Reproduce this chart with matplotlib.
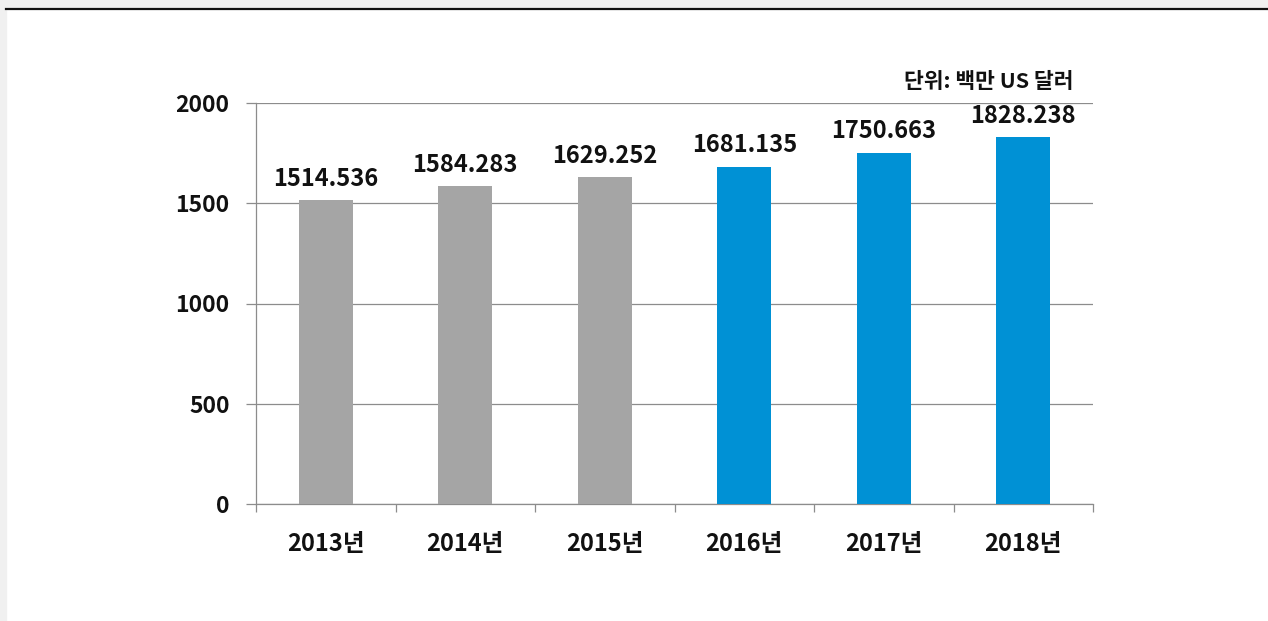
import matplotlib
matplotlib.use("Agg")
import matplotlib.pyplot as plt
from matplotlib.patches import Rectangle
from matplotlib.lines import Line2D

years = ["2013년", "2014년", "2015년", "2016년", "2017년", "2018년"]
values = [1514.536, 1584.283, 1629.252, 1681.135, 1750.663, 1828.238]
value_labels = ["1514.536", "1584.283", "1629.252", "1681.135", "1750.663", "1828.238"]
bar_colors = ["#a5a5a5", "#a5a5a5", "#a5a5a5", "#0091d5", "#0091d5", "#0091d5"]
yticks = [0, 500, 1000, 1500, 2000]
unit_text = "단위: 백만 US 달러"

plt.rcParams['font.family'] = ['Noto Sans CJK KR', 'DejaVu Sans']

W, H = 1268, 621
fig = plt.figure(figsize=(W / 100, H / 100), dpi=100)
fig.patch.set_facecolor("white")

# background frame: gray left strip and top strip with dark line
fig.add_artist(Rectangle((0, 0), 6 / W, 1, transform=fig.transFigure, color="#f0f0f0", zorder=0))
fig.add_artist(Rectangle((0, 1 - 8 / H), 1, 8 / H, transform=fig.transFigure, color="#f0f0f0", zorder=0))
fig.add_artist(Line2D([6 / W, 1], [1 - 9 / H, 1 - 9 / H], transform=fig.transFigure, color="#111111", lw=1.6))

left, right = 256 / W, 1093 / W
bottom, top = 1 - 504 / H, 1 - 103 / H
ax = fig.add_axes([left, bottom, right - left, top - bottom])

x = list(range(len(years)))
ax.bar(x, values, width=0.39, color=bar_colors, zorder=3)
ax.set_xlim(-0.5, len(years) - 0.5)
ax.set_ylim(0, 2000)

for xi, v, lab in zip(x, values, value_labels):
    ax.annotate(lab, (xi, v), xytext=(0, 7), textcoords="offset points",
                ha="center", va="bottom", fontsize=17, fontweight="bold", color="#111111")

ax.set_yticks(yticks)
ax.set_yticklabels([str(t) for t in yticks], fontsize=16.5, fontweight="bold", color="#111111")
ax.grid(axis="y", color="#8c8c8c", lw=0.9, zorder=0)
ax.set_axisbelow(True)

ax.set_xticks([i + 0.5 for i in range(-1, len(years))], minor=False)
ax.set_xticklabels([])
ax.tick_params(axis="x", which="major", length=6, width=0.9, color="#8c8c8c", direction="out")
ax.set_xticks(x, minor=True)
ax.set_xticklabels(years, minor=True, fontsize=17, fontweight="bold", color="#111111")
ax.tick_params(axis="x", which="minor", length=0, pad=20)
ax.tick_params(axis="y", length=7, width=0.9, color="#8c8c8c", pad=12)

for s in ["top", "right"]:
    ax.spines[s].set_visible(False)
ax.spines["left"].set_color("#8c8c8c")
ax.spines["bottom"].set_color("#8c8c8c")
ax.spines["left"].set_linewidth(0.9)
ax.spines["bottom"].set_linewidth(0.9)

fig.text(1073 / W, 1 - 81 / H, unit_text, ha="right", va="center", fontsize=15.5,
         fontweight="bold", color="#111111")

fig.savefig("out.png", dpi=100, facecolor=fig.get_facecolor())
